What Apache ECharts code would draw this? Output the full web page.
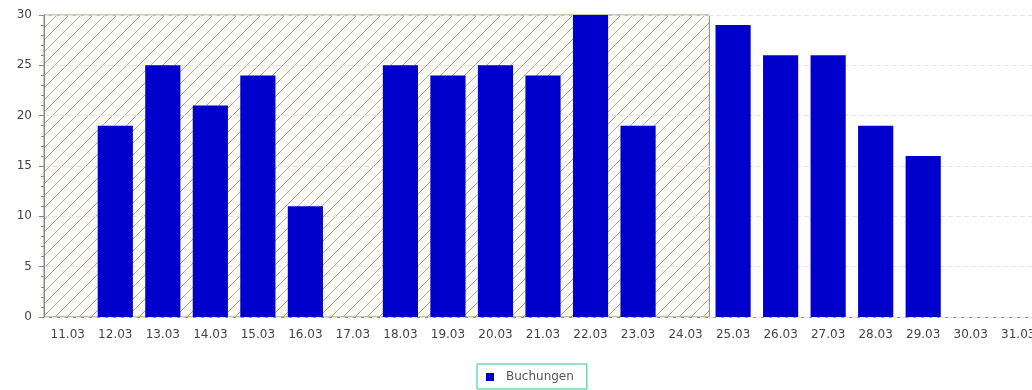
<!DOCTYPE html>
<html><head><meta charset="utf-8">
<script src="https://cdn.jsdelivr.net/npm/echarts@6/dist/echarts.min.js"></script>
<style>html,body{margin:0;padding:0;background:#fff}#c{width:1032px;height:390px}</style>
</head><body><div id="c"></div>
<script>
const categories = ['11.03','12.03','13.03','14.03','15.03','16.03','17.03','18.03','19.03','20.03','21.03','22.03','23.03','24.03','25.03','26.03','27.03','28.03','29.03','30.03','31.03'];
const buchungen = [0,19,25,21,24,11,0,25,24,25,24,30,19,0,29,26,26,19,16,0,0];
const hatchRange = [0, 14]; // band index start, end (11.03 .. 24.03 inclusive)
const yTicks = {min:0, max:30, interval:5};

function makeHatch(){
  const s = 12, c = document.createElement('canvas');
  c.width = s; c.height = s;
  const g = c.getContext('2d');
  g.fillStyle = '#fafaf3'; g.fillRect(0,0,s,s);
  g.strokeStyle = '#a8a8a2'; g.lineWidth = 1;
  g.beginPath();
  g.moveTo(-1, s+1); g.lineTo(s+1, -1);
  g.moveTo(-1, 1); g.lineTo(1, -1);
  g.moveTo(s-1, s+1); g.lineTo(s+1, s-1);
  g.stroke();
  return c;
}

const chart = echarts.init(document.getElementById('c'), null, {renderer:'canvas'});
chart.setOption({
  animation:false,
  textStyle:{fontFamily:'DejaVu Sans'},
  grid:{left:44, top:15, width:998, height:302, containLabel:false, outerBoundsMode:'none'},
  legend:{
    data:['Buchungen'], left:477, top:364, padding:[7,13,6,9],
    borderColor:'#33c38f', borderWidth:1, itemWidth:8, itemHeight:8, icon:'rect',
    textStyle:{fontSize:12, color:'#555', fontFamily:'DejaVu Sans', padding:[0,0,0,7]}
  },
  xAxis:[{
    type:'category', data:categories, boundaryGap:true,
    axisLine:{lineStyle:{color:'#999'}}, axisTick:{show:false},
    axisLabel:{color:'#444', fontSize:12, margin:12, interval:0}
  },{
    type:'value', min:0, max:categories.length, show:false
  }],
  yAxis:{
    type:'value', min:yTicks.min, max:yTicks.max, interval:yTicks.interval,
    axisLine:{show:true, lineStyle:{color:'#888'}},
    axisTick:{show:true, length:5, lineStyle:{color:'#888'}},
    minorTick:{show:true, splitNumber:5, length:3, lineStyle:{color:'#888'}},
    splitLine:{show:true, lineStyle:{color:'#e4e4e4', type:[5,3]}},
    axisLabel:{color:'#444', fontSize:12, margin:12},
    z:3
  },
  series:[{
    name:'hatch', type:'line', xAxisIndex:1, data:[], z:1, silent:true,
    markArea:{
      silent:true,
      itemStyle:{color:{image:makeHatch(), repeat:'repeat'}, borderColor:'#8c8c60', borderWidth:1},
      data:[[{xAxis:hatchRange[0]},{xAxis:hatchRange[1]}]]
    }
  },{
    name:'Buchungen', type:'bar', data:buchungen, barCategoryGap:'26%', z:4,
    itemStyle:{color:'#0000cc'}
  }]
});
</script></body></html>
